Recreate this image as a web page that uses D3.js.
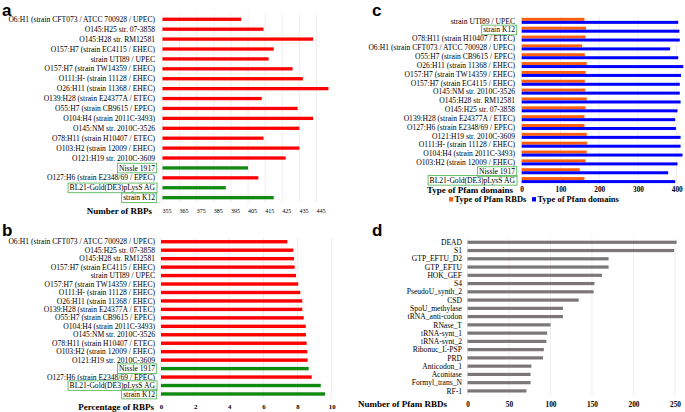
<!DOCTYPE html>
<html><head><meta charset="utf-8">
<script src="https://cdn.jsdelivr.net/npm/d3@7"></script>
<style>
body{margin:0;background:#fff;}
svg{display:block;}
text{font-family:"Liberation Serif","Times New Roman",serif;fill:#000;}
.plabel{font-family:"Liberation Sans",Arial,sans-serif;font-weight:bold;}
</style></head>
<body><svg id="c" width="685" height="412"></svg>
<script>
// ---------- DATA ----------
const strainsA = ["O6:H1 (strain CFT073 / ATCC 700928 / UPEC)","O145:H25 str. 07-3858","O145:H28 str. RM12581","O157:H7 (strain EC4115 / EHEC)","strain UTI89 / UPEC","O157:H7 (strain TW14359 / EHEC)","O111:H- (strain 11128 / EHEC)","O26:H11 (strain 11368 / EHEC)","O139:H28 (strain E24377A / ETEC)","O55:H7 (strain CB9615 / EPEC)","O104:H4 (strain 2011C-3493)","O145:NM str. 2010C-3526","O78:H11 (strain H10407 / ETEC)","O103:H2 (strain 12009 / EHEC)","O121:H19 str. 2010C-3609","Nissle 1917","O127:H6 (strain E2348/69 / EPEC)","BL21-Gold(DE3)pLysS AG","strain K12"];
const rbpCounts = [401,414,443,420,417,431,437,452,413,434,443,435,414,435,427,405,411,392,420];
const ticksA = [355,365,375,385,395,405,415,425,435,445];

const strainsB = strainsA.slice();
const rbpPercent = [7.40,7.75,7.79,7.83,7.91,8.04,8.16,8.28,8.28,8.36,8.48,8.49,8.53,8.57,8.59,8.65,8.83,9.36,9.61];
const ticksB = [0,2,4,6,8,10];

const strainsC = ["strain UTI89 / UPEC","strain K12","O78:H11 (strain H10407 / ETEC)","O6:H1 (strain CFT073 / ATCC 700928 / UPEC)","O55:H7 (strain CB9615 / EPEC)","O26:H11 (strain 11368 / EHEC)","O157:H7 (strain TW14359 / EHEC)","O157:H7 (strain EC4115 / EHEC)","O145:NM str. 2010C-3526","O145:H28 str. RM12581","O145:H25 str. 07-3858","O139:H28 (strain E24377A / ETEC)","O127:H6 (strain E2348/69 / EPEC)","O121:H19 str. 2010C-3609","O111:H- (strain 11128 / EHEC)","O104:H4 (strain 2011C-3493)","O103:H2 (strain 12009 / EHEC)","Nissle 1917","BL21-Gold(DE3)pLysS AG"];
const pfamRBDs = [162,166,165,156,163,168,165,163,164,168,165,162,162,168,169,168,165,150,162];
const pfamDomains = [404,407,408,383,404,417,411,408,408,410,402,396,398,410,410,415,402,378,396];
const ticksC = [0,100,200,300,400];
const seriesC = ["Type of Pfam RBDs","Type of Pfam domains"];

const domainsD = ["DEAD","S1","GTP_EFTU_D2","GTP_EFTU","HOK_GEF","S4","PseudoU_synth_2","CSD","SpoU_methylase","tRNA_anti-codon","RNase_T","tRNA-synt_1","tRNA-synt_2","Ribonuc_L-PSP","PRD","Anticodon_1","Aconitase","Formyl_trans_N","RF-1"];
const domainCounts = [252,249,170,170,162,153,152,134,115,115,100,96,95,92,91,77,76,76,71];
const ticksD = [0,50,100,150,200,250];

const boxed = ["Nissle 1917","BL21-Gold(DE3)pLysS AG","strain K12"];

// ---------- DRAW ----------
const svg = d3.select("#c");
const RED="#ff0000", GREEN="#108a10", ORANGE="#ff6010", BLUE="#0000ff", GRAY="#7b7777";

function panel(o){
  const g = svg.append("g");
  const x = d3.scaleLinear().domain(o.domain).range(o.xr);
  const y = d3.scaleBand().domain(o.cats).range(o.yr).paddingInner(0).paddingOuter(0);
  // gridlines
  g.selectAll("line.grid").data(o.ticks).join("line")
    .attr("x1",d=>x(d)).attr("x2",d=>x(d))
    .attr("y1",o.yr[0]).attr("y2",o.yr[1])
    .attr("stroke","#e6e6e6").attr("stroke-width",0.7);
  // category axis
  const ya = g.append("g").attr("transform",`translate(${o.labelRight},0)`)
    .call(d3.axisLeft(y).tickSize(0).tickPadding(0));
  ya.select(".domain").remove();
  ya.selectAll("text").attr("x",0).attr("dy","0.34em")
    .style("font-family",'"Liberation Serif",serif').style("font-size",o.catSize+"px").attr("fill","#000");
  // boxes
  if(o.box){
    ya.selectAll(".tick").each(function(d){
      if(boxed.indexOf(d)<0) return;
      const t = d3.select(this).select("text");
      const bb = t.node().getBBox();
      d3.select(this).insert("rect","text")
        .attr("x",bb.x-1.5).attr("y",bb.y-0.3).attr("width",bb.width+3).attr("height",bb.height+0.6)
        .attr("fill","none").attr("stroke","#5fb85f").attr("stroke-width",0.9);
    });
  }
  // bars
  o.series.forEach(s=>{
    g.selectAll(null).data(o.cats).join("rect")
      .attr("x",x(o.domain[0]))
      .attr("y",d=>y(d)+s.off*y.bandwidth())
      .attr("width",(d,i)=>Math.max(0,x(s.vals[i])-x(o.domain[0])))
      .attr("height",s.h)
      .attr("fill",(d,i)=>typeof s.color==="function"?s.color(d,i):s.color);
  });
  // value axis
  const xa = g.append("g").attr("transform",`translate(0,${o.tickY})`)
    .call(d3.axisBottom(x).tickValues(o.ticks).tickSize(0).tickPadding(0).tickFormat(d3.format("d")));
  xa.select(".domain").remove();
  xa.selectAll("text").attr("y",0).attr("dy","0.35em").attr("dx",o.tickDx||0)
    .style("font-family",'"Liberation Serif",serif').style("font-size",o.tickSize+"px")
    .style("font-weight",o.tickBold?"bold":"normal").attr("fill","#000");
  // axis title
  g.append("text").attr("x",o.titleRight).attr("y",o.tickY).attr("dy","0.35em")
    .attr("text-anchor","end").style("font-weight","bold").style("font-size","9px").text(o.title);
  // panel letter
  g.append("text").attr("class","plabel").attr("x",o.letterXY[0]).attr("y",o.letterXY[1])
    .style("font-size","17px").text(o.letter);
  return g;
}

const colorAB = d => boxed.indexOf(d)>=0 ? GREEN : RED;

panel({cats:strainsA, domain:[355,445], xr:[162.5,316.5], yr:[14.35,202.65], ticks:ticksA,
  labelRight:155, catSize:7.6, tickY:210.7, tickSize:6, tickBold:false, tickDx:4,
  title:"Number of RBPs", titleRight:152, letter:"a", letterXY:[2,16], box:true,
  series:[{vals:rbpCounts, off:0.33, h:3.3, color:colorAB}]});

panel({cats:strainsB, domain:[0,10], xr:[161,331.7], yr:[237.5,398.2], ticks:ticksB,
  labelRight:155, catSize:7.6, tickY:406.7, tickSize:6.8, tickBold:true,
  title:"Percentage of RBPs", titleRight:154, letter:"b", letterXY:[2,236], box:true,
  series:[{vals:rbpPercent, off:0.3, h:3.4, color:colorAB}]});

panel({cats:strainsC, domain:[0,400], xr:[521.7,676.7], yr:[16.6,184.7], ticks:ticksC,
  labelRight:515, catSize:7.6, tickY:189.8, tickSize:7.3, tickBold:true,
  title:"Type of Pfam domains", titleRight:513, letter:"c", letterXY:[372,16], box:true,
  series:[{vals:pfamRBDs, off:0.14, h:3, color:ORANGE},{vals:pfamDomains, off:0.48, h:3, color:BLUE}]});

panel({cats:domainsD, domain:[0,250], xr:[467.5,675], yr:[238.2,395.1], ticks:ticksD,
  labelRight:462, catSize:7.6, tickY:404.3, tickSize:7.3, tickBold:true,
  title:"Number of Pfam RBDs", titleRight:447, letter:"d", letterXY:[372,236], box:false,
  series:[{vals:domainCounts, off:0.3, h:3.2, color:GRAY}]});

// legend for panel c
const leg = svg.append("g").attr("transform","translate(0,199.3)");
[[ORANGE,seriesC[0],449],[BLUE,seriesC[1],532]].forEach(([c,t,xx])=>{
  leg.append("rect").attr("x",xx).attr("y",-2.2).attr("width",4).attr("height",4.4).attr("fill",c);
  leg.append("text").attr("x",xx+5.5).attr("y",0).attr("dy","0.35em")
    .style("font-weight","bold").style("font-size","8.5px").text(t);
});
</script></body></html>
